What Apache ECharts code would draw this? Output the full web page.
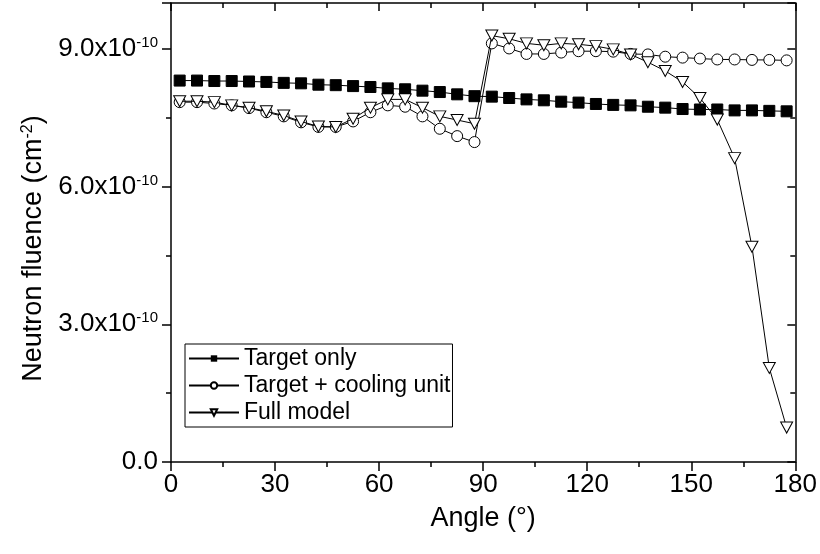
<!DOCTYPE html>
<html>
<head>
<meta charset="utf-8">
<script src="https://cdn.jsdelivr.net/npm/echarts@6/dist/echarts.min.js"></script>
<style>
html,body{margin:0;padding:0;background:#fff;}
#chart{width:820px;height:554px;}
</style>
</head>
<body>
<div id="chart"></div>
<script>
// Angles (degrees)
var angles = [2.5, 7.5, 12.5, 17.5, 22.5, 27.5, 32.5, 37.5, 42.5, 47.5, 52.5, 57.5,
  62.5, 67.5, 72.5, 77.5, 82.5, 87.5, 92.5, 97.5, 102.5, 107.5, 112.5, 117.5,
  122.5, 127.5, 132.5, 137.5, 142.5, 147.5, 152.5, 157.5, 162.5, 167.5, 172.5, 177.5];
// Neutron fluence, in units of 1e-10 cm^-2
var targetOnly = [8.31, 8.31, 8.30, 8.30, 8.29, 8.28, 8.26, 8.25, 8.22, 8.21, 8.19, 8.17,
  8.14, 8.12, 8.09, 8.06, 8.01, 7.97, 7.96, 7.93, 7.90, 7.88, 7.85, 7.83,
  7.80, 7.78, 7.77, 7.74, 7.72, 7.69, 7.68, 7.68, 7.66, 7.66, 7.65, 7.64];
var targetCooling = [7.84, 7.84, 7.81, 7.77, 7.71, 7.62, 7.53, 7.40, 7.30, 7.30, 7.42, 7.62,
  7.77, 7.74, 7.53, 7.26, 7.10, 6.97, 9.12, 9.01, 8.89, 8.89, 8.92, 8.95,
  8.95, 8.94, 8.89, 8.88, 8.83, 8.81, 8.79, 8.77, 8.77, 8.76, 8.76, 8.75];
var fullModel = [7.86, 7.86, 7.84, 7.77, 7.72, 7.64, 7.55, 7.42, 7.31, 7.30, 7.48, 7.72,
  7.90, 7.90, 7.72, 7.53, 7.45, 7.37, 9.29, 9.22, 9.12, 9.08, 9.12, 9.10,
  9.06, 8.99, 8.88, 8.71, 8.52, 8.28, 7.93, 7.46, 6.62, 4.69, 2.05, 0.75];
var seriesNames = ['Target only', 'Target + cooling unit', 'Full model'];
var xTicks = {min: 0, max: 180, interval: 30};
var yTicks = {min: 0, max: 10, interval: 3};

function pairs(ys){ return angles.map(function(a,i){ return [a, ys[i]]; }); }

var FONT = 'Liberation Sans, Arial, sans-serif';
var chart = echarts.init(document.getElementById('chart'), null, {renderer:'canvas'});

var yLabelFmt = function(v){
  if (Math.abs(v) < 1e-9) return '{a|0.0}';
  return '{a|' + v.toFixed(1) + 'x10}{b|-10}';
};
var yRich = {
  a: {fontSize: 26, fontFamily: FONT, color: '#000'},
  b: {fontSize: 15, fontFamily: FONT, color: '#000', verticalAlign: 'top', padding: [0,0,12,0]}
};

var option = {
  backgroundColor: '#fff',
  animation: false,
  grid: {left: 171, right: 24, top: 3, bottom: 92, containLabel: false},
  xAxis: [{
    type: 'value', min: xTicks.min, max: xTicks.max, interval: xTicks.interval,
    position: 'bottom',
    name: 'Angle (°)', nameLocation: 'middle', nameGap: 43,
    nameTextStyle: {fontSize: 27, fontFamily: FONT, color: '#000'},
    axisLine: {show: true, onZero: false, lineStyle: {color: '#000', width: 1.5}},
    axisTick: {show: true, inside: false, length: 9, lineStyle: {color: '#000', width: 1.5}},
    minorTick: {show: true, splitNumber: 2, length: 5, lineStyle: {color: '#000', width: 1.5}},
    axisLabel: {fontSize: 26, fontFamily: FONT, color: '#000', margin: 10},
    splitLine: {show: false}
  }, {
    type: 'value', min: xTicks.min, max: xTicks.max, interval: xTicks.interval,
    position: 'top',
    axisLine: {show: true, onZero: false, lineStyle: {color: '#000', width: 1.5}},
    axisTick: {show: true, inside: true, length: 8, lineStyle: {color: '#000', width: 1.5}},
    minorTick: {show: true, splitNumber: 2, length: 5, lineStyle: {color: '#000', width: 1.5}},
    axisLabel: {show: false},
    splitLine: {show: false}
  }],
  yAxis: [{
    type: 'value', min: yTicks.min, max: yTicks.max, interval: yTicks.interval,
    position: 'left',
    name: '{a|Neutron fluence (cm}{b|-2}{a|)}', nameLocation: 'middle', nameGap: 117, nameRotate: 90,
    nameTextStyle: {padding: [0, 32, 0, 0], rich: {
      a: {fontSize: 27, fontFamily: FONT, color: '#000'},
      b: {fontSize: 16, fontFamily: FONT, color: '#000', verticalAlign: 'top', padding: [0,0,12,0]}
    }},
    axisLine: {show: true, onZero: false, lineStyle: {color: '#000', width: 1.5}},
    axisTick: {show: true, inside: false, length: 9, lineStyle: {color: '#000', width: 1.5}},
    minorTick: {show: true, splitNumber: 2, length: 5, lineStyle: {color: '#000', width: 1.5}},
    axisLabel: {formatter: yLabelFmt, rich: yRich, margin: 13, showMaxLabel: false},
    splitLine: {show: false}
  }, {
    type: 'value', min: yTicks.min, max: yTicks.max, interval: yTicks.interval,
    position: 'right',
    axisLine: {show: true, onZero: false, lineStyle: {color: '#000', width: 1.5}},
    axisTick: {show: true, inside: true, length: 8, lineStyle: {color: '#000', width: 1.5}},
    minorTick: {show: true, splitNumber: 2, length: 5, lineStyle: {color: '#000', width: 1.5}},
    axisLabel: {show: false},
    splitLine: {show: false}
  }],
  legend: {
    show: true, orient: 'vertical', left: 185, top: 344,
    padding: [3, 2, 3, 3], itemGap: 4, itemWidth: 50, itemHeight: 8,
    borderColor: '#000', borderWidth: 1, backgroundColor: '#fff',
    textStyle: {fontSize: 23, fontFamily: FONT, color: '#000', padding: [0,0,0,0]},
    data: seriesNames
  },
  series: [{
    name: seriesNames[0], type: 'line', data: pairs(targetOnly),
    symbol: 'rect', symbolSize: 11,
    itemStyle: {color: '#000', borderColor: '#000'},
    lineStyle: {color: '#000', width: 1}, z: 3
  }, {
    name: seriesNames[1], type: 'line', data: pairs(targetCooling),
    symbol: 'circle', symbolSize: 11,
    itemStyle: {color: '#fff', borderColor: '#000', borderWidth: 1},
    lineStyle: {color: '#000', width: 1}, z: 4
  }, {
    name: seriesNames[2], type: 'line', data: pairs(fullModel),
    symbol: 'triangle', symbolRotate: 180, symbolSize: [12, 11],
    itemStyle: {color: '#fff', borderColor: '#000', borderWidth: 1},
    lineStyle: {color: '#000', width: 1}, z: 5
  }]
};
chart.setOption(option);
</script>
</body>
</html>
